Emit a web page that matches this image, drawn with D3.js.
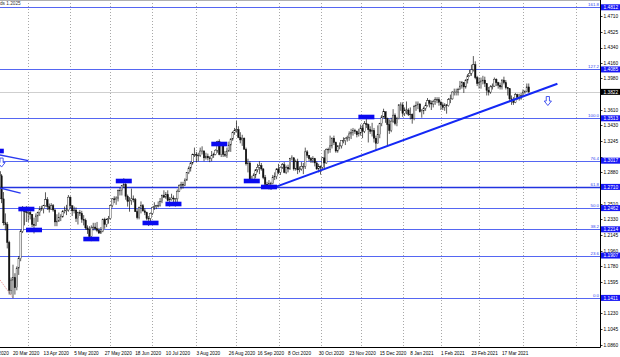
<!DOCTYPE html>
<html><head><meta charset="utf-8">
<script src="https://cdn.jsdelivr.net/npm/d3@7"></script>
<style>html,body{margin:0;padding:0;background:#fff;overflow:hidden}svg{display:block}</style>
</head><body><svg id="c" width="620" height="357"></svg>
<script>
// ---------- DATA (GBP/USD daily) ----------
const firstDate = "2020-03-09";
const firstOpen = 1.3040;
const highs = [
 // Mar 2020 (from 9 Mar)
 1.3200,1.3160,1.2980,1.2860,1.2650,1.2400,1.2300,1.2080,1.1650,1.1800,1.1700,1.1780,1.1900,1.2210,1.2486,1.2460,1.2485,
 // Apr
 1.2480,1.2450,1.2390,1.2350,1.2400,1.2420,1.2485,1.2490,1.2500,1.2647,1.2590,1.2515,1.2520,1.2510,1.2450,1.2390,1.2410,1.2390,1.2440,1.2480,1.2500,1.2615,
 // May
 1.2600,1.2490,1.2480,1.2470,1.2420,1.2440,1.2430,1.2380,1.2340,1.2260,1.2250,1.2260,1.2290,1.2290,1.2300,1.2230,1.2240,1.2340,1.2350,1.2340,1.2370,
 // Jun
 1.2500,1.2580,1.2600,1.2600,1.2680,1.2700,1.2730,1.2812,1.2760,1.2620,1.2590,1.2690,1.2610,1.2580,1.2450,1.2480,1.2540,1.2510,1.2460,1.2420,1.2370,1.2410,
 // Jul
 1.2480,1.2530,1.2500,1.2540,1.2580,1.2620,1.2670,1.2650,1.2670,1.2590,1.2630,1.2610,1.2580,1.2680,1.2740,1.2770,1.2770,1.2810,1.2880,1.2950,1.3000,1.3100,1.3170,
 // Aug
 1.3120,1.3110,1.3170,1.3185,1.3140,1.3110,1.3100,1.3070,1.3130,1.3110,1.3150,1.3250,1.3267,1.3220,1.3230,1.3130,1.3170,1.3240,1.3280,1.3360,1.3400,
 // Sep
 1.3482,1.3420,1.3350,1.3320,1.3290,1.3170,1.3040,1.3010,1.2840,1.2870,1.2920,1.2980,1.3010,1.2990,1.2930,1.2850,1.2770,1.2790,1.2770,1.2850,1.2880,1.2930,
 // Oct
 1.2980,1.2950,1.2990,1.3000,1.2960,1.2970,1.3050,1.3080,1.3060,1.3030,1.3040,1.2950,1.3000,1.2990,1.3170,1.3140,1.3070,1.3060,1.3070,1.3050,1.3010,1.2980,
 // Nov
 1.2960,1.3060,1.3140,1.3160,1.3170,1.3310,1.3290,1.3310,1.3240,1.3200,1.3230,1.3250,1.3290,1.3290,1.3310,1.3360,1.3390,1.3400,1.3390,1.3370,1.3390,
 // Dec
 1.3440,1.3440,1.3480,1.3540,1.3450,1.3420,1.3460,1.3400,1.3310,1.3430,1.3460,1.3550,1.3625,1.3590,1.3520,1.3500,1.3520,1.3620,1.3570,1.3530,1.3680,1.3700,
 // Jan 2021
 1.3700,1.3640,1.3710,1.3630,1.3640,1.3570,1.3670,1.3710,1.3710,1.3690,1.3620,1.3650,1.3700,1.3750,1.3730,1.3720,1.3730,1.3760,1.3760,1.3760,
 // Feb
 1.3720,1.3700,1.3690,1.3680,1.3750,1.3790,1.3830,1.3860,1.3860,1.3870,1.3950,1.3950,1.3930,1.3970,1.4030,1.4080,1.4140,1.4241,1.4180,1.4010,
 // Mar
 1.3990,1.3990,1.4010,1.4000,1.3920,1.3880,1.3900,1.3920,1.3990,1.3980,1.3940,1.3930,1.3970,1.4000,1.3960,1.3880,1.3860,1.3780,1.3760,1.3810,1.3800,1.3800,1.3810,
 // Apr
 1.3850,1.3840,1.3920,1.3920
];
const lows = [
 1.3000,1.2850,1.2750,1.2520,1.2260,1.2200,1.1990,1.1450,1.1450,1.1409,1.1450,1.1500,1.1680,1.1840,1.2170,1.2260,1.2300,
 1.2300,1.2330,1.2240,1.2165,1.2250,1.2300,1.2370,1.2430,1.2400,1.2480,1.2440,1.2410,1.2440,1.2420,1.2250,1.2250,1.2300,1.2310,1.2350,1.2400,1.2380,1.2420,
 1.2460,1.2370,1.2400,1.2300,1.2270,1.2370,1.2290,1.2260,1.2210,1.2160,1.2120,1.2075,1.2200,1.2200,1.2180,1.2160,1.2160,1.2180,1.2220,1.2240,1.2280,
 1.2330,1.2470,1.2520,1.2500,1.2540,1.2610,1.2610,1.2700,1.2560,1.2480,1.2420,1.2500,1.2530,1.2420,1.2330,1.2330,1.2400,1.2420,1.2380,1.2320,1.2252,1.2270,
 1.2380,1.2440,1.2450,1.2470,1.2480,1.2520,1.2580,1.2570,1.2540,1.2480,1.2550,1.2520,1.2480,1.2520,1.2650,1.2680,1.2690,1.2720,1.2780,1.2860,1.2890,1.2970,1.3060,
 1.3000,1.3010,1.3060,1.3090,1.3010,1.3030,1.3020,1.3000,1.3010,1.3050,1.3080,1.3110,1.3080,1.3060,1.3060,1.3060,1.3050,1.3120,1.3120,1.3250,1.3320,
 1.3350,1.3280,1.3220,1.3190,1.3150,1.2960,1.2880,1.2770,1.2762,1.2780,1.2810,1.2880,1.2860,1.2900,1.2800,1.2720,1.2700,1.2680,1.2676,1.2740,1.2790,1.2800,
 1.2860,1.2850,1.2920,1.2870,1.2860,1.2880,1.2910,1.3020,1.2900,1.2900,1.2860,1.2880,1.2900,1.2860,1.2920,1.3050,1.3010,1.2990,1.2990,1.2950,1.2910,1.2880,
 1.2854,1.2920,1.2915,1.2980,1.3100,1.3110,1.3160,1.3200,1.3110,1.3110,1.3150,1.3160,1.3220,1.3200,1.3240,1.3250,1.3270,1.3310,1.3330,1.3290,1.3300,
 1.3310,1.3280,1.3340,1.3400,1.3230,1.3330,1.3300,1.3230,1.3135,1.3250,1.3280,1.3420,1.3520,1.3460,1.3190,1.3330,1.3350,1.3460,1.3430,1.3420,1.3500,1.3600,
 1.3530,1.3540,1.3560,1.3540,1.3500,1.3450,1.3490,1.3600,1.3620,1.3580,1.3520,1.3560,1.3600,1.3650,1.3640,1.3610,1.3640,1.3670,1.3690,1.3660,
 1.3610,1.3610,1.3600,1.3567,1.3650,1.3690,1.3730,1.3780,1.3780,1.3780,1.3850,1.3860,1.3810,1.3860,1.3920,1.4000,1.4010,1.4060,1.3970,1.3890,
 1.3860,1.3860,1.3910,1.3880,1.3780,1.3780,1.3800,1.3850,1.3880,1.3890,1.3860,1.3850,1.3850,1.3910,1.3850,1.3780,1.3710,1.3670,1.3670,1.3690,1.3730,1.3720,1.3730,
 1.3760,1.3800,1.3820,1.3810
];
const closes = [
 1.3150,1.2890,1.2840,1.2570,1.2290,1.2270,1.2060,1.1500,1.1620,1.1650,1.1530,1.1760,1.1870,1.2190,1.2460,1.2420,1.2410,
 1.2410,1.2390,1.2270,1.2260,1.2370,1.2410,1.2450,1.2455,1.2490,1.2560,1.2480,1.2450,1.2490,1.2440,1.2300,1.2310,1.2350,1.2360,1.2420,1.2430,1.2440,1.2590,
 1.2490,1.2430,1.2440,1.2340,1.2410,1.2400,1.2330,1.2320,1.2230,1.2210,1.2130,1.2230,1.2240,1.2220,1.2200,1.2170,1.2190,1.2330,1.2270,1.2330,1.2340,
 1.2490,1.2570,1.2560,1.2580,1.2670,1.2670,1.2730,1.2740,1.2600,1.2540,1.2550,1.2570,1.2560,1.2420,1.2350,1.2470,1.2490,1.2430,1.2410,1.2340,1.2340,1.2400,
 1.2470,1.2480,1.2490,1.2490,1.2540,1.2610,1.2590,1.2620,1.2550,1.2560,1.2580,1.2570,1.2570,1.2660,1.2730,1.2740,1.2730,1.2790,1.2880,1.2930,1.2990,1.3090,1.3090,
 1.3080,1.3080,1.3130,1.3130,1.3050,1.3070,1.3050,1.3040,1.3080,1.3090,1.3140,1.3240,1.3090,1.3210,1.3090,1.3080,1.3130,1.3200,1.3270,1.3350,1.3370,
 1.3380,1.3290,1.3260,1.3280,1.3150,1.2980,1.2990,1.2800,1.2790,1.2850,1.2910,1.2940,1.2960,1.2920,1.2820,1.2740,1.2730,1.2750,1.2750,1.2820,1.2830,1.2920,
 1.2880,1.2940,1.2970,1.2880,1.2940,1.2920,1.3040,1.3050,1.2920,1.3010,1.2910,1.2920,1.2950,1.2950,1.3120,1.3080,1.3040,1.3020,1.3040,1.2990,1.2920,1.2950,
 1.2940,1.3050,1.2990,1.3150,1.3150,1.3190,1.3280,1.3230,1.3130,1.3190,1.3190,1.3250,1.3250,1.3280,1.3290,1.3330,1.3350,1.3370,1.3360,1.3320,1.3340,
 1.3400,1.3360,1.3450,1.3440,1.3380,1.3360,1.3370,1.3280,1.3220,1.3320,1.3450,1.3530,1.3590,1.3510,1.3440,1.3370,1.3480,1.3550,1.3450,1.3510,1.3670,1.3670,
 1.3570,1.3610,1.3610,1.3560,1.3560,1.3510,1.3650,1.3660,1.3680,1.3590,1.3600,1.3630,1.3660,1.3720,1.3690,1.3680,1.3710,1.3730,1.3730,1.3700,
 1.3670,1.3640,1.3670,1.3660,1.3730,1.3740,1.3820,1.3820,1.3820,1.3850,1.3890,1.3930,1.3880,1.3960,1.4010,1.4040,1.4080,1.4140,1.3990,1.3920,
 1.3930,1.3950,1.3960,1.3920,1.3840,1.3820,1.3880,1.3890,1.3970,1.3930,1.3900,1.3880,1.3960,1.3930,1.3870,1.3860,1.3740,1.3730,1.3700,1.3790,1.3760,1.3750,1.3780,
 1.3820,1.3830,1.3880,1.3822
];
const priceTicks = [1.4710,1.4525,1.4340,1.4160,1.3980,1.3795,1.3610,1.3430,1.3245,1.3060,1.2880,1.2695,
  1.2510,1.2330,1.2145,1.1960,1.1780,1.1595,1.1410,1.1230,1.1045,1.0860];
const dateLabels = ["27 Feb 2020","20 Mar 2020","13 Apr 2020","5 May 2020","27 May 2020","18 Jun 2020",
  "10 Jul 2020","3 Aug 2020","26 Aug 2020","16 Sep 2020","8 Oct 2020","30 Oct 2020","23 Nov 2020",
  "15 Dec 2020","8 Jan 2021","1 Feb 2021","23 Feb 2021","17 Mar 2021"];
const gridDates = ["2020-04-01","2020-05-01","2020-06-01","2020-07-01","2020-08-03","2020-09-01","2020-10-01",
  "2020-11-02","2020-12-01","2021-01-04","2021-02-01","2021-03-01","2021-04-01","2021-05-11"];
const fibLow = 1.1411, fibHigh = 1.3513;
const fibRatios = [0.0, 23.6, 38.2, 50.0, 61.8, 76.4, 100.0, 127.2, 161.8];
const fibAnchors = [{date:"2019-12-13", price:1.3513},{date:"2020-03-20", price:1.1411}];
const trendline = [{date:"2020-09-25", price:1.2690},{date:"2021-04-27", price:1.3917}];
const oldLines = [
  [{date:"2020-03-09", price:1.3093},{date:"2020-04-01", price:1.3017}],
  [{date:"2020-03-09", price:1.2709},{date:"2020-03-26", price:1.2637}]
];
const markers = [
  {date:"2020-03-09", price:1.3130},{date:"2020-03-31", price:1.2451},{date:"2020-04-06", price:1.2206},
  {date:"2020-05-18", price:1.2100},{date:"2020-06-10", price:1.2779},{date:"2020-06-30", price:1.2288},
  {date:"2020-07-16", price:1.2510},{date:"2020-08-19", price:1.3212},{date:"2020-09-11", price:1.2779},
  {date:"2020-09-24", price:1.2709},{date:"2020-12-04", price:1.3528}
];
const arrows = [{date:"2020-03-12", price:1.2995},{date:"2021-04-20", price:1.3715}];
const bidPrice = 1.3822;
const topNote = "ds 1.2025";

// ---------- CHART ----------
const W = 620, H = 357, plotR = 600, plotB = 347;
const svg = d3.select("#c");
const font = "'Liberation Sans', Arial, sans-serif";

// trading calendar (weekdays without 25 Dec / 1 Jan)
const key = d3.utcFormat("%Y-%m-%d");
const cal = d3.utcDay.range(new Date(Date.UTC(2019,11,2)), new Date(Date.UTC(2021,6,1))).filter(d => {
  const w = d.getUTCDay(); if (w === 0 || w === 6) return false;
  const m = d.getUTCMonth(), dd = d.getUTCDate();
  return !((m === 11 && dd === 25) || (m === 0 && dd === 1));
});
const calIndex = new Map(cal.map((d,i) => [key(d), i]));
const idx = s => calIndex.get(s);

const x = d3.scaleLinear().domain([idx("2020-03-20"), idx("2021-03-17")]).range([13, 502]);
const y = d3.scaleLinear().domain([1.0860, 1.4710]).range([345, 16]);

const i0 = idx(firstDate);
const bars = closes.map((c,k) => {
  const o = k === 0 ? firstOpen : closes[k-1];
  return {i: i0 + k, o, c, h: Math.max(highs[k], o, c), l: Math.min(lows[k], o, c)};
});

svg.append("rect").attr("width", W).attr("height", H).attr("fill", "#fff");
svg.append("defs").append("clipPath").attr("id","plot")
  .append("rect").attr("x",0).attr("y",0).attr("width",plotR).attr("height",plotB);
const g = svg.append("g").attr("clip-path","url(#plot)");

// vertical grid
g.selectAll("line.grid").data(gridDates).join("line").attr("class","grid")
  .attr("x1", d => Math.round(x(idx(d))) + 0.5).attr("x2", d => Math.round(x(idx(d))) + 0.5)
  .attr("y1", 0).attr("y2", plotB)
  .attr("stroke", "#a8a8a8").attr("stroke-width", 1).attr("stroke-dasharray", "1,2");

// top border
g.append("line").attr("x1",0).attr("x2",plotR).attr("y1",0.5).attr("y2",0.5).attr("stroke","#b0b0b0");

// fib levels
const fibs = fibRatios.map(r => ({r, p: fibLow + r/100*(fibHigh - fibLow)}));
g.selectAll("line.fib").data(fibs).join("line").attr("class","fib")
  .attr("x1", 0).attr("x2", plotR)
  .attr("y1", d => Math.round(y(d.p)) + 0.5).attr("y2", d => Math.round(y(d.p)) + 0.5)
  .attr("stroke", d => d.r === 61.8 ? "#2233e0" : "#5566f2")
  .attr("stroke-width", d => d.r === 61.8 ? 1.6 : 1);
g.selectAll("text.fibl").data(fibs).join("text").attr("class","fibl")
  .attr("x", 599).attr("y", d => Math.round(y(d.p)) - 0.6)
  .attr("text-anchor","end").attr("font-family", font).attr("font-size", 4.4)
  .attr("fill", "#3344ee").text(d => d.r.toFixed(1));

// fib diagonal (red dotted)
g.append("line")
  .attr("x1", x(idx(fibAnchors[0].date))).attr("y1", y(fibAnchors[0].price))
  .attr("x2", x(idx(fibAnchors[1].date))).attr("y2", y(fibAnchors[1].price))
  .attr("stroke", "#e07070").attr("stroke-width", 1).attr("stroke-dasharray", "1,1.5");

// bid line
g.append("line").attr("x1",0).attr("x2",plotR)
  .attr("y1", Math.round(y(bidPrice)) + 0.5).attr("y2", Math.round(y(bidPrice)) + 0.5)
  .attr("stroke", "#cfcfcf").attr("stroke-width", 1);

// candles
const cg = g.append("g");
cg.selectAll("line.wick").data(bars).join("line").attr("class","wick")
  .attr("x1", d => x(d.i)).attr("x2", d => x(d.i))
  .attr("y1", d => y(d.h)).attr("y2", d => y(d.l))
  .attr("stroke", "#111").attr("stroke-width", 0.7);
cg.selectAll("rect.body").data(bars).join("rect").attr("class","body")
  .attr("x", d => x(d.i) - 0.75).attr("width", 1.5)
  .attr("y", d => y(Math.max(d.o, d.c)))
  .attr("height", d => Math.max(0.6, Math.abs(y(d.o) - y(d.c))))
  .attr("fill", d => d.c >= d.o ? "#fff" : "#111")
  .attr("stroke", "#111").attr("stroke-width", 0.4);

// old lines on the left
g.selectAll("line.old").data(oldLines).join("line").attr("class","old")
  .attr("x1", d => x(idx(d[0].date))).attr("y1", d => y(d[0].price))
  .attr("x2", d => x(idx(d[1].date))).attr("y2", d => y(d[1].price))
  .attr("stroke", "#2a3af0").attr("stroke-width", 1.3);

// trendline
g.append("line")
  .attr("x1", x(idx(trendline[0].date))).attr("y1", y(trendline[0].price))
  .attr("x2", x(idx(trendline[1].date))).attr("y2", y(trendline[1].price))
  .attr("stroke", "#1428f5").attr("stroke-width", 2);

// marker boxes
g.selectAll("rect.mk").data(markers).join("rect").attr("class","mk")
  .attr("x", d => x(idx(d.date)) - 8).attr("y", d => y(d.price) - 2.3)
  .attr("width", 16).attr("height", 4.6).attr("fill", "#0a0af0");

// hollow down arrows
const arrowPath = "M-1.6,-4.5 H1.6 V0 H3.6 L0,4.5 L-3.6,0 H-1.6 Z";
g.selectAll("path.arr").data(arrows).join("path").attr("class","arr")
  .attr("transform", d => `translate(${x(idx(d.date))},${y(d.price)})`)
  .attr("d", arrowPath).attr("fill", "#fff").attr("stroke", "#3344ee").attr("stroke-width", 0.9);

// top-left note
svg.append("text").attr("x", 0).attr("y", 5).attr("font-family", font).attr("font-size", 4.7)
  .attr("fill", "#333").text(topNote);

// axes lines
svg.append("line").attr("x1", plotR + 0.5).attr("x2", plotR + 0.5).attr("y1", 0).attr("y2", plotB + 0.5)
  .attr("stroke", "#000");
svg.append("line").attr("x1", 0).attr("x2", plotR + 0.5).attr("y1", plotB + 0.5).attr("y2", plotB + 0.5)
  .attr("stroke", "#000");

// right-axis level boxes (fib levels + bid)
const boxes = fibs.map(f => ({p: f.p, fill: "#1616f5"})).concat([{p: bidPrice, fill: "#000"}]);

// price ticks (labels hidden behind a level box are not drawn)
const visibleTicks = priceTicks.filter(t => boxes.every(b => Math.abs(y(b.p) - y(t)) > 4));
const pt = svg.append("g");
pt.selectAll("line").data(priceTicks).join("line")
  .attr("x1", plotR).attr("x2", plotR + 2.5)
  .attr("y1", d => Math.round(y(d)) + 0.5).attr("y2", d => Math.round(y(d)) + 0.5)
  .attr("stroke", "#000").attr("stroke-width", 0.8);
pt.selectAll("text").data(visibleTicks).join("text")
  .attr("x", 603.5).attr("y", d => y(d) + 1.7)
  .attr("font-family", font).attr("font-size", 4.8).attr("fill", "#000")
  .text(d => d.toFixed(4));

const bg = svg.append("g");
bg.selectAll("rect").data(boxes).join("rect")
  .attr("x", plotR + 1).attr("width", W - plotR - 1)
  .attr("y", d => y(d.p) - 3).attr("height", 6).attr("fill", d => d.fill);
bg.selectAll("text").data(boxes).join("text")
  .attr("x", 603.5).attr("y", d => y(d.p) + 1.7)
  .attr("font-family", font).attr("font-size", 4.8).attr("fill", "#fff")
  .text(d => d.p.toFixed(4));

// date labels
const parseLbl = d3.utcParse("%d %b %Y");
svg.append("g").selectAll("text").data(dateLabels).join("text")
  .attr("x", d => x(idx(key(parseLbl(d))))).attr("y", 354.5)
  .attr("font-family", font).attr("font-size", 4.7).attr("fill", "#000")
  .text(d => d);
</script></body></html>
